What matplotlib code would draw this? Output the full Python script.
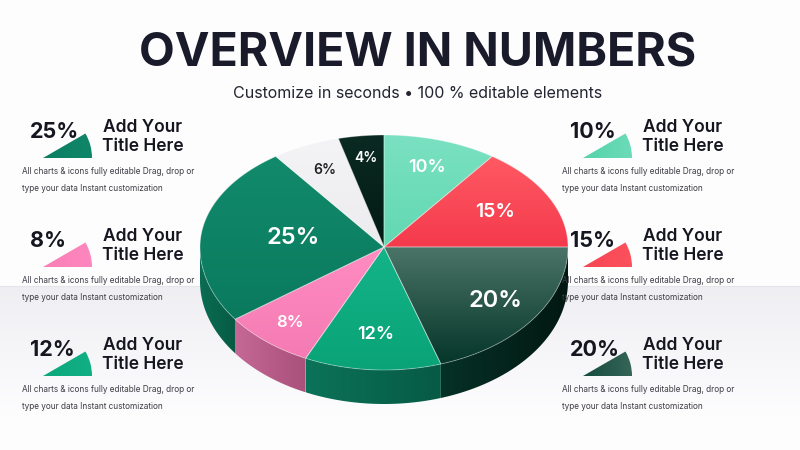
import numpy as np
import matplotlib
matplotlib.use("Agg")
import matplotlib.pyplot as plt
from matplotlib.patches import Polygon, Wedge
from matplotlib.colors import LinearSegmentedColormap

plt.rcParams['font.family'] = ['Inter', 'DejaVu Sans']

# slice data, clockwise from 12 o'clock
values = [10, 15, 20, 12, 8, 25, 6, 4]
top_light = ['#7ae1c1', '#ff5a64', '#4a7467', '#14b488', '#ff8cc2', '#128a6c', '#f4f4f6', '#0a2a22']
top_dark = ['#62d8b1', '#f43a4c', '#053629', '#09a377', '#f47bb3', '#0a7a5d', '#ececef', '#031a14']
side_light = ['#48b894', '#c9303f', '#063126', '#0b7358', '#c56895', '#0a6d53', '#d8d8dc', '#02140f']
side_dark = ['#3a9d7e', '#a92634', '#021812', '#075a45', '#a9507b', '#075a44', '#c8c8cc', '#010c09']
icon_col = ['#4fd0a5', '#f5404f', '#0b4536', '#0aa67a', '#f77db5', '#0b7d60', '#ececef', '#031a14']
label_col = ['white', 'white', 'white', 'white', 'white', 'white', '#222222', 'white']
label_size = [13, 14, 17, 13, 12, 17, 10, 10]
label_r = [0.75, 0.68, 0.75, 0.71, 0.8, 0.5, 0.76, 0.8]

# side items
left_items = [25, 8, 12]
right_items = [10, 15, 20]
item_title = "Add Your\nTitle Here"
item_desc = "All charts & icons fully editable Drag, drop or\ntype your data Instant customization"

title = "OVERVIEW IN NUMBERS"
subtitle = "Customize in seconds \u2022 100 % editable elements"

# layout of the pie
cx, cy = 384, 247
ra, rb_back, rb_front = 184, 112, 123
depth = 34


def pt(t):
    t = np.radians(t)
    c = np.cos(t)
    rb = np.where(c > 0, rb_back, rb_front)
    return cx + ra * np.sin(t), cy - rb * c


def grad_fill(ax, verts, c1, c2, z, horizontal=False, ec=None):
    verts = np.asarray(verts)
    poly = Polygon(verts, closed=True, facecolor='none',
                   edgecolor=ec if ec else 'none', lw=0.7, zorder=z + 0.1)
    ax.add_patch(poly)
    x0, y0 = verts.min(axis=0)
    x1, y1 = verts.max(axis=0)
    g = np.linspace(0, 1, 200)
    arr = g[None, :] if horizontal else g[:, None]
    cmap = LinearSegmentedColormap.from_list('g', [c1, c2])
    im = ax.imshow(arr, cmap=cmap, extent=(x0, x1, y0, y1), origin='lower',
                   aspect='auto', zorder=z, interpolation='bilinear')
    im.set_clip_path(poly)


fig = plt.figure(figsize=(8, 4.5), dpi=100)
ax = fig.add_axes([0, 0, 1, 1])

# background: white top, light grey band fading downwards
bg = np.concatenate([np.zeros(286), np.linspace(1, 0, 130), np.zeros(34)])
bg_cmap = LinearSegmentedColormap.from_list('bg', ['#fdfdfe', '#efeff3'])
ax.imshow(bg[:, None], cmap=bg_cmap, extent=(0, 800, 0, 450), origin='lower',
          aspect='auto', zorder=0, vmin=0, vmax=1)
ax.plot([0, 800], [286, 286], color='#e4e4ea', lw=0.8, zorder=0.5)

starts = np.concatenate([[0], np.cumsum(values)[:-1]]) / 100 * 360
ends = np.cumsum(values) / 100 * 360

# sides (front half only)
for i in range(len(values)):
    s, e = max(starts[i], 90), min(ends[i], 270)
    if s >= e:
        continue
    t = np.linspace(s, e, 80)
    x, y = pt(t)
    verts = np.column_stack([np.concatenate([x, x[::-1]]),
                             np.concatenate([y, y[::-1] + depth])])
    grad_fill(ax, verts, side_light[i], side_dark[i], 2, horizontal=True)

# top faces
for i in range(len(values)):
    t = np.linspace(starts[i], ends[i], 120)
    x, y = pt(t)
    verts = np.column_stack([np.concatenate([[cx], x]), np.concatenate([[cy], y])])
    grad_fill(ax, verts, top_light[i], top_dark[i], 3, ec='#ffffff55')

# slice labels
for i, v in enumerate(values):
    mid = (starts[i] + ends[i]) / 2
    tr = np.radians(mid)
    c = np.cos(tr)
    rb = rb_back if c > 0 else rb_front
    lx = cx + ra * label_r[i] * np.sin(tr)
    ly = cy - rb * label_r[i] * c
    ax.text(lx, ly, f"{v}%", color=label_col[i], fontsize=label_size[i],
            fontweight='semibold', ha='center', va='center', zorder=5)

# titles
ax.text(418, 53, title, fontsize=33.5, fontweight='bold', color='#191b2b',
        ha='center', va='center', zorder=5)
ax.text(418, 93, subtitle, fontsize=11.5, color='#222430',
        ha='center', va='center', zorder=5)


def side_item(x0, y0, v):
    i = values.index(v)
    w = Wedge((x0 + 21, y0 + 27), 49, -30, 0, zorder=4, lw=0, facecolor='none')
    ax.add_patch(w)
    g = np.linspace(0, 1, 100)[None, :]
    cmap = LinearSegmentedColormap.from_list('w', [icon_col[i], top_light[i]])
    im = ax.imshow(g, cmap=cmap, extent=(x0 + 21, x0 + 71, y0, y0 + 28), origin='lower',
                   aspect='auto', zorder=4, vmin=-0.3, vmax=1.6)
    im.set_clip_path(w)
    ax.text(x0 + 8, y0 + 1, f"{v}%", fontsize=15.5, fontweight='bold', color='#15161f',
            ha='left', va='center', zorder=5)
    ax.text(x0 + 121, y0 + 6, item_title, fontsize=12.5, fontweight='semibold',
            color='#15161f', ha='center', va='center', linespacing=1.15, zorder=5)
    ax.text(x0, y0 + 49, item_desc, fontsize=5.9, color='#3c3c44',
            ha='left', va='center', linespacing=2.1, zorder=5)


for k, v in enumerate(left_items):
    side_item(22, 131 + k * 109, v)
for k, v in enumerate(right_items):
    side_item(562, 131 + k * 109, v)

ax.set_xlim(0, 800)
ax.set_ylim(450, 0)
ax.axis('off')
fig.savefig('out.png', dpi=100)
